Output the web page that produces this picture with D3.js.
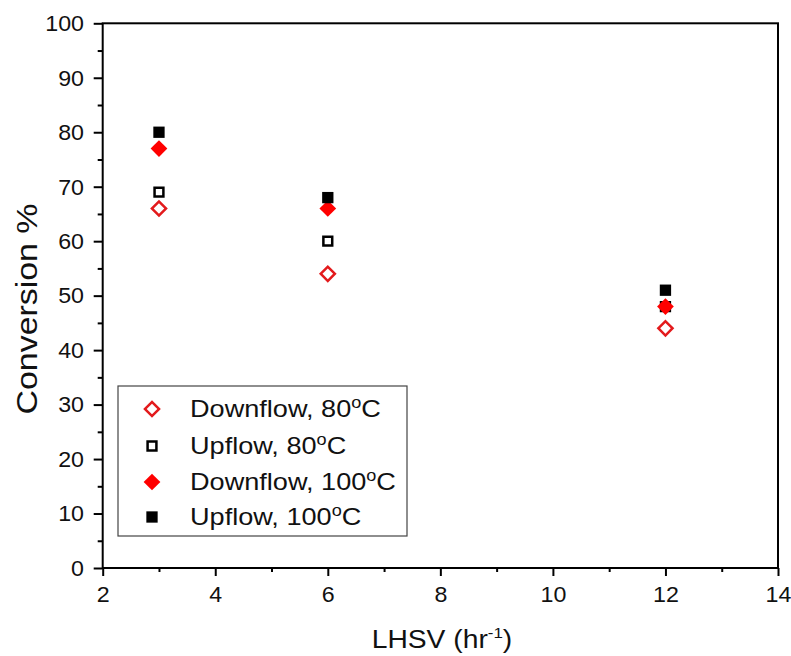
<!DOCTYPE html>
<html><head><meta charset="utf-8">
<script src="https://cdn.jsdelivr.net/npm/d3@7"></script>
<style>
body{margin:0;background:#fff}
text{font-family:"Liberation Sans",Arial,sans-serif;fill:#111}
</style>
</head><body><svg id="c" width="791" height="656"></svg>
<script>
// ---- data ----
const lhsv = [3, 6, 12];
const downflow80 = [66, 54, 44];
const upflow80 = [69, 60, 48];
const downflow100 = [77, 66, 48];
const upflow100 = [80, 68, 51];
const seriesLabels = ["Downflow, 80", "Upflow, 80", "Downflow, 100", "Upflow, 100"];
const xTicks = [2, 4, 6, 8, 10, 12, 14];
const xMinor = [3, 5, 7, 9, 11, 13];
const yTicks = [0, 10, 20, 30, 40, 50, 60, 70, 80, 90, 100];
const yMinor = [5, 15, 25, 35, 45, 55, 65, 75, 85, 95];

const series = [
  {label: seriesLabels[0], values: downflow80, shape: "diamond", open: true, color: "#e31a1c"},
  {label: seriesLabels[1], values: upflow80, shape: "square", open: true, color: "#000"},
  {label: seriesLabels[2], values: downflow100, shape: "diamond", open: false, color: "#ff0000"},
  {label: seriesLabels[3], values: upflow100, shape: "square", open: false, color: "#000"}
];

const svg = d3.select("#c");
const L = 102.7, R = 778, T = 23.3, B = 568;
const x = d3.scaleLinear().domain([2, 14]).range([L, R]);
const y = d3.scaleLinear().domain([0, 100]).range([B, T]);

function sym(s) {
  let size;
  if (s.shape === "diamond") size = s.open ? 100 : 140;
  else size = s.open ? 78 : 128;
  return d3.symbol().type(d3.symbolSquare).size(size)();
}
function drawMarker(g, s, cx, cy) {
  const p = g.append("path").attr("d", sym(s))
    .attr("transform", `translate(${cx},${cy})` + (s.shape === "diamond" ? " rotate(45)" : ""));
  if (s.open) p.attr("fill", "#fff").attr("stroke", s.color).attr("stroke-width", 2.5);
  else p.attr("fill", s.color);
}

// axes
const fontTick = 21.5, sxTick = 1.08;
const gx = svg.append("g").attr("transform", `translate(0,${B})`)
  .call(d3.axisBottom(x).tickValues(xTicks).tickSize(8).tickPadding(11).tickFormat(d3.format("d")));
svg.append("g").attr("transform", `translate(0,${B})`)
  .call(d3.axisBottom(x).tickValues(xMinor).tickSize(4).tickFormat(""));
const gy = svg.append("g").attr("transform", `translate(${L},0)`)
  .call(d3.axisLeft(y).tickValues(yTicks).tickSize(9).tickFormat(d3.format("d")));
svg.append("g").attr("transform", `translate(${L},0)`)
  .call(d3.axisLeft(y).tickValues(yMinor).tickSize(5).tickFormat(""));

svg.selectAll(".domain").remove();
svg.selectAll(".tick line").attr("stroke", "#000").attr("stroke-width", 2);
gx.selectAll("text").attr("font-size", fontTick).attr("fill", "#111")
  .attr("transform", `scale(${sxTick},1)`);
gy.selectAll("text").attr("font-size", fontTick).attr("fill", "#111")
  .attr("x", -18.7 / sxTick).attr("dy", "0.34em")
  .attr("transform", `scale(${sxTick},1)`);
svg.selectAll(".tick text").style("font-family", '"Liberation Sans",Arial,sans-serif');

// frame
svg.append("rect").attr("x", L).attr("y", T).attr("width", R - L).attr("height", B - T)
  .attr("fill", "none").attr("stroke", "#000").attr("stroke-width", 2);

// points
const gp = svg.append("g");
series.forEach(s => {
  s.values.forEach((v, i) => drawMarker(gp, s, x(lhsv[i]), y(v)));
});

// legend
const lg = svg.append("g");
lg.append("rect").attr("x", 118).attr("y", 386).attr("width", 289).attr("height", 150)
  .attr("fill", "#fff").attr("stroke", "#444").attr("stroke-width", 1.2);
const rowY = [409, 446, 482, 517];
series.forEach((s, i) => {
  drawMarker(lg, s, 152, rowY[i]);
  const t = lg.append("text").attr("font-size", 24)
    .attr("transform", `translate(190,${rowY[i] + 8}) scale(1.13,1)`);
  t.append("tspan").text(s.label);
  t.append("tspan").attr("font-size", 16).attr("dy", -9).text("o");
  t.append("tspan").attr("dy", 9).text("C");
});

// axis titles
const xt = svg.append("text").attr("font-size", 25)
  .attr("transform", `translate(371.7,648) scale(1.13,1)`);
xt.append("tspan").text("LHSV (hr");
xt.append("tspan").attr("font-size", 15).attr("dy", -10).text("-1");
xt.append("tspan").attr("dy", 10).text(")");

svg.append("text").attr("font-size", 30).attr("text-anchor", "middle")
  .attr("transform", `translate(36.7,309) rotate(-90) scale(1.13,1)`)
  .text("Conversion %");
</script>
</body></html>
